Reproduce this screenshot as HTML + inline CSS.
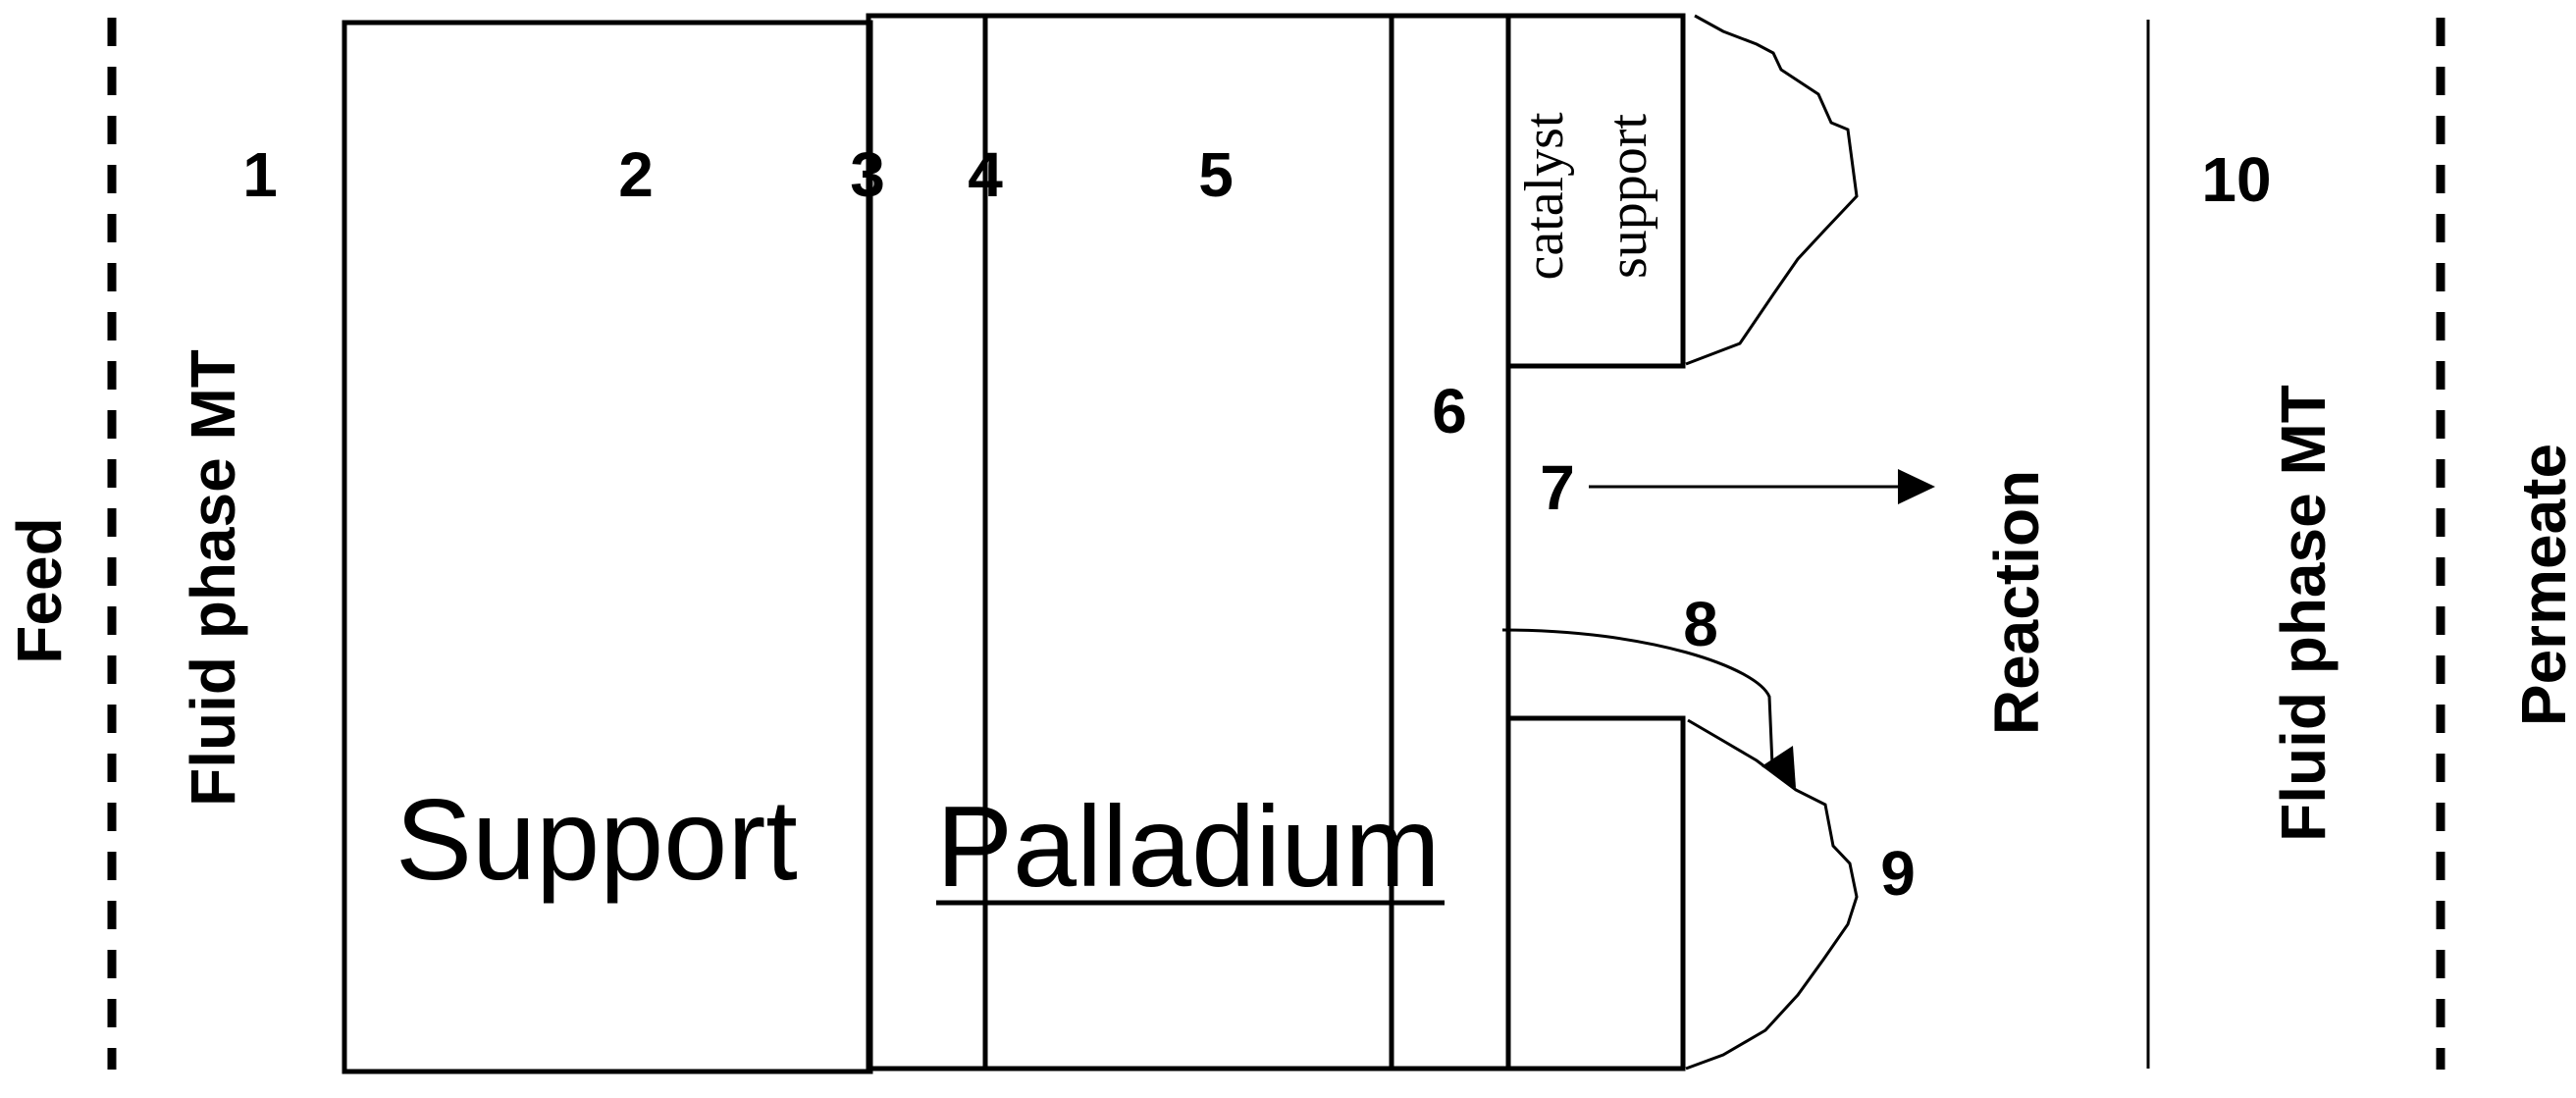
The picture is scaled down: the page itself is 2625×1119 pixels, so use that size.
<!DOCTYPE html>
<html><head><meta charset="utf-8"><style>
html,body{margin:0;padding:0;background:#fff;}
svg{display:block;}
.b{font-family:"Liberation Sans",Arial,sans-serif;font-weight:bold;font-size:64px;}
</style></head><body>
<svg width="2625" height="1119" viewBox="0 0 2625 1119" xmlns="http://www.w3.org/2000/svg">
<g fill="none" stroke="#000">
<line x1="114" y1="18" x2="114" y2="1090" stroke-width="9" stroke-dasharray="29,21"/>
<line x1="2487" y1="18" x2="2487" y2="1090" stroke-width="9" stroke-dasharray="29,21"/>
<line x1="2189" y1="20" x2="2189" y2="1089" stroke-width="3"/>
<rect x="351" y="23" width="536" height="1069" stroke-width="5"/>
<rect x="885" y="16" width="652" height="1073" stroke-width="5"/>
<line x1="1004" y1="16" x2="1004" y2="1089" stroke-width="5"/>
<line x1="1418" y1="16" x2="1418" y2="1089" stroke-width="5"/>
<polyline points="1537,16 1715,16 1715,373 1537,373" stroke-width="5"/>
<polyline points="1537,732 1715,732 1715,1089 1537,1089" stroke-width="5"/>
<polyline stroke-width="3" points="1727,16 1756,32 1790,45 1807,54 1815,71 1853,96 1866,125 1883,132 1892,200 1858,236 1832,264 1807,300 1773,350 1718,371"/>
<polyline stroke-width="3" points="1720,734 1756,755 1790,775 1830,805 1860,820 1868,862 1885,880 1892,914 1883,942 1858,978 1832,1014 1799,1050 1756,1075 1718,1089"/>
<line x1="1619" y1="496" x2="1940" y2="496" stroke-width="3"/>
<path d="M1531,642 C1680,642 1790,680 1803,710 L1806,780" stroke-width="3"/>
<line x1="954" y1="920" x2="1472" y2="920" stroke-width="5"/>
</g>
<polygon points="1972,496 1934,478 1934,514" fill="#000"/>
<polygon points="1830,803 1795,781 1827,760" fill="#000"/>
<g class="b" text-anchor="middle">
<text x="265" y="200">1</text>
<text x="648" y="200">2</text>
<text x="884" y="200">3</text>
<text x="1004" y="200">4</text>
<text x="1239" y="200">5</text>
<text x="2279" y="205">10</text>
<text x="1477" y="441">6</text>
<text x="1587" y="519">7</text>
<text x="1733" y="658">8</text>
<text x="1934" y="912">9</text>
<text transform="translate(62,602) rotate(-90)">Feed</text>
<text transform="translate(239,589) rotate(-90)">Fluid phase MT</text>
<text transform="translate(2077,614) rotate(-90)">Reaction</text>
<text transform="translate(2369,625) rotate(-90)">Fluid phase MT</text>
<text transform="translate(2614,596) rotate(-90)">Permeate</text>
</g>
<g font-family="Liberation Sans,Arial,sans-serif" font-size="117">
<text x="403" y="896">Support</text>
<text x="954" y="903">Palladium</text>
</g>
<g font-family="Liberation Serif,serif" font-size="56" text-anchor="middle">
<text transform="translate(1592,200) rotate(-90)">catalyst</text>
<text transform="translate(1677,200) rotate(-90)">support</text>
</g>
</svg>
</body></html>
